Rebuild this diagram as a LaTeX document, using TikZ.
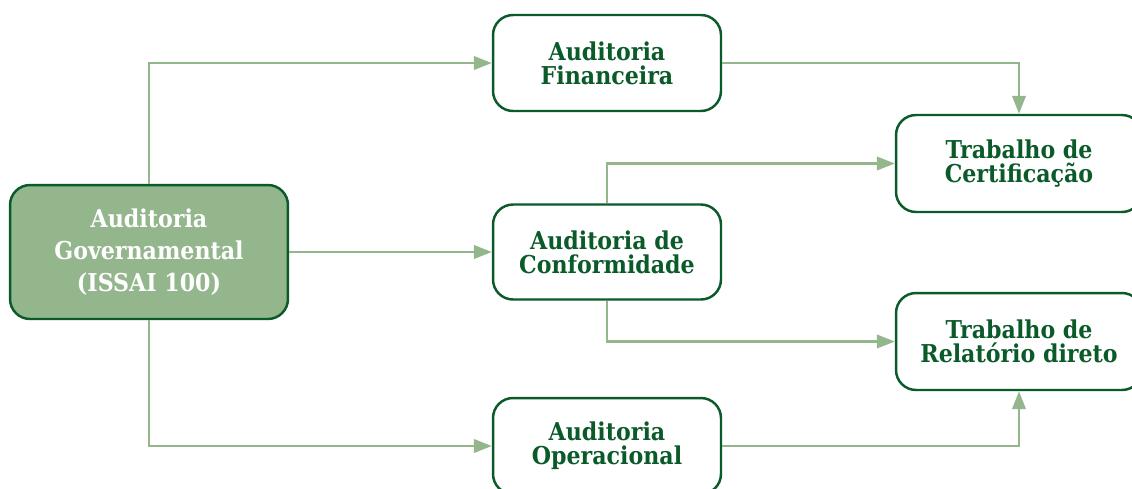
\documentclass[tikz,border=0pt]{standalone}
\usepackage{fontspec}
\setmainfont{DejaVu Serif Condensed}
\usepackage{tikz}
\usetikzlibrary{arrows.meta}
\definecolor{darkgreen}{HTML}{0B5A2A}
\definecolor{lightgreen}{HTML}{93B68D}

\begin{document}
\begin{tikzpicture}[x=0.02cm,y=-0.02cm,
    box/.style={draw=darkgreen,line width=1.4pt,rounded corners=0.4cm,fill=white,text=darkgreen,align=center,font=\bfseries\fontsize{14}{13.5}\selectfont},
    link/.style={draw=lightgreen,line width=1.4pt,-{Triangle[length=0.36cm,width=0.27cm]}}]
      \useasboundingbox (0,0) rectangle (1132,488);
      \node[box,fill=lightgreen,text=white,minimum width=5.56cm,minimum height=2.68cm,font=\bfseries\fontsize{14}{18}\selectfont](gov) at (149,252){Auditoria\\Governamental\\(ISSAI 100)};
      \node[box,minimum width=4.56cm,minimum height=1.92cm](fin) at (607,63){Auditoria\\Financeira};
      \node[box,minimum width=4.56cm,minimum height=1.9cm](conf) at (607,252){Auditoria de\\Conformidade};
      \node[box,minimum width=4.56cm,minimum height=1.92cm](oper) at (607,446){Auditoria\\Operacional};
      \node[box,minimum width=4.92cm,minimum height=1.94cm](cert) at (1019,163.5){Trabalho de\\Certificação};
      \node[box,minimum width=4.92cm,minimum height=1.94cm](rel) at (1019,341.5){Trabalho de\\Relatório direto};
      % ligacoes
      \draw[link] (gov.north) |- (fin.west);
      \draw[link] (gov.east) -- (conf.west);
      \draw[link] (gov.south) |- (oper.west);
      \draw[link] (fin.east) -| (cert.north);
      \draw[link] (conf.north) |- (cert.west);
      \draw[link] (conf.south) |- (rel.west);
      \draw[link] (oper.east) -| (rel.south);
\end{tikzpicture}
\end{document}
